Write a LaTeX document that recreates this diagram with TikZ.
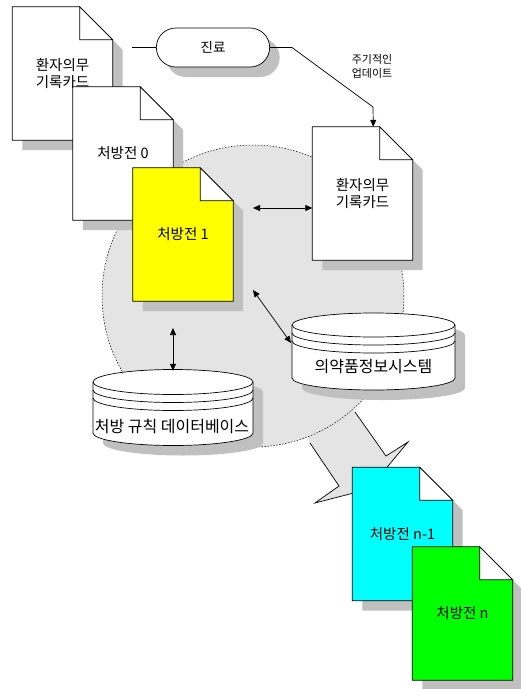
\documentclass[tikz,border=0pt]{standalone}
\usepackage{fontspec}
\newfontfamily\kr{Noto Sans CJK KR}
\usetikzlibrary{arrows.meta,shapes.misc,shadows,calc}
\definecolor{shadowgray}{RGB}{192,192,192}
\definecolor{zonefill}{RGB}{228,228,228}
\definecolor{docyellow}{RGB}{255,255,0}
\definecolor{doccyan}{RGB}{0,255,255}
\definecolor{docgreen}{RGB}{0,255,0}
\tikzset{
  docframe/.style={rectangle, draw=none, minimum width=100pt, minimum height=133pt, inner sep=0pt},
  docline/.style={line width=0.7pt, line join=miter},
  doctext/.style={font=\kr\fontsize{14.5}{17}\selectfont, align=center, inner sep=0pt},
  dbtext/.style={font=\kr\fontsize{16}{18}\selectfont, inner sep=0pt},
  dbframe/.style={rectangle, draw=none, inner sep=0pt},
  conn/.style={line width=0.7pt},
  biarrow/.style={conn, {Triangle[length=7pt,width=6pt]}-{Triangle[length=7pt,width=6pt]}},
  onearrow/.style={conn, -{Triangle[length=7pt,width=6pt]}},
}
\newcommand{\docnode}[4]{%
  \path (#2) node[docframe] (#1) {};
  \fill[shadowgray] ($(#1.north west)+(10pt,-10pt)$) -- ($(#1.north east)+(-23pt,-10pt)$) -- ($(#1.north east)+(10pt,-43pt)$) -- ($(#1.south east)+(10pt,-10pt)$) -- ($(#1.south west)+(10pt,-10pt)$) -- cycle;
  \draw[docline, fill=#3] (#1.north west) -- ($(#1.north east)+(-33pt,0pt)$) -- ($(#1.north east)+(0pt,-33pt)$) -- (#1.south east) -- (#1.south west) -- cycle;
  \draw[docline, fill=white] ($(#1.north east)+(-33pt,0pt)$) -- ($(#1.north east)+(-33pt,-33pt)$) -- ($(#1.north east)+(0pt,-33pt)$) -- cycle;
  \node[doctext] (#1-t) at (#1) {#4};
}
\begin{document}
\begin{tikzpicture}[x=1pt,y=-1pt]
\useasboundingbox (0,0) rectangle (521,689);

% zone and big arrow
\fill[zonefill] (253,296) -- (355,412) -- (386,456) -- (408,442) -- (369,489) -- (315,503) -- (339,486) -- (310,443) -- cycle;
\node[circle, minimum size=302pt, inner sep=0pt, fill=zonefill, draw, line width=0.5pt, dash pattern=on 1.5pt off 1.5pt] (zone) at (253,296) {};
\draw[conn] (355,412) -- (386,456) -- (408,442) -- (369,489) -- (315,503) -- (339,486) -- (310,443);

% documents
\docnode{card1}{62.5,73.5}{white}{환자의무\\기록카드}
\docnode{rx0}{123,153.5}{white}{처방전 0}
\docnode{rx1}{183,234.5}{docyellow}{처방전 1}
\docnode{card2}{362.5,193.5}{white}{환자의무\\기록카드}
\docnode{rxn1}{402.5,534}{doccyan}{처방전 n-1}
\docnode{rxn}{462.5,613.5}{docgreen}{처방전 n}

% database 1
\node[dbframe, minimum width=163pt, minimum height=77pt] (db1) at (373.5,351.5) {};
\fill[shadowgray] (302,335) -- (302,388) arc[start angle=180,end angle=360,x radius=81.5pt,y radius=12pt] -- (465,335) arc[start angle=0,end angle=180,x radius=81.5pt,y radius=12pt] -- cycle;
\draw[conn, fill=white] (292,325) -- (292,378) arc[start angle=180,end angle=360,x radius=81.5pt,y radius=12pt] -- (455,325) arc[start angle=0,end angle=180,x radius=81.5pt,y radius=12pt] -- cycle;
\draw[conn] (292,325) arc[start angle=180,end angle=360,x radius=81.5pt,y radius=12pt];
\draw[conn] (292,333) arc[start angle=180,end angle=360,x radius=81.5pt,y radius=12pt];
\draw[conn] (292,341) arc[start angle=180,end angle=360,x radius=81.5pt,y radius=12pt];
\node[dbtext] (db1-t) at (373.5,367) {의약품정보시스템};

% database 2
\node[dbframe, minimum width=160pt, minimum height=75pt] (db2) at (173,407.5) {};
\fill[shadowgray] (103,392) -- (103,443) arc[start angle=180,end angle=360,x radius=80pt,y radius=12.5pt] -- (263,392) arc[start angle=0,end angle=180,x radius=80pt,y radius=12.5pt] -- cycle;
\draw[conn, fill=white] (93,382) -- (93,433) arc[start angle=180,end angle=360,x radius=80pt,y radius=12.5pt] -- (253,382) arc[start angle=0,end angle=180,x radius=80pt,y radius=12.5pt] -- cycle;
\draw[conn] (93,382) arc[start angle=180,end angle=360,x radius=80pt,y radius=12.5pt];
\draw[conn] (93,390) arc[start angle=180,end angle=360,x radius=80pt,y radius=12.5pt];
\draw[conn] (93,398) arc[start angle=180,end angle=360,x radius=80pt,y radius=12.5pt];
\node[dbtext] (db2-t) at (172,426) {처방 규칙 데이터베이스};

% terminal
\node[rounded rectangle, draw, conn, fill=white, minimum width=120pt, minimum height=39pt,
  font=\kr\fontsize{13.5}{16}\selectfont,
  drop shadow={shadow xshift=10pt, shadow yshift=-10pt, fill=shadowgray, opacity=1, draw=none}] (jin) at (213,47.5) {진료};

% connectors
\coordinate (stub) at (132,47.5);
\draw[conn] (stub) -- (jin.west);
\coordinate (u1) at (292,47.5);
\coordinate (u2) at (373,107);
\coordinate (u3) at ($(card2.north west)+(61pt,0pt)$);
\draw[onearrow] (jin.east) -- (u1) -- (u2) -- (u3);
\node[font=\kr\fontsize{11}{14}\selectfont, align=center, inner sep=0pt] (upd) at (372,66) {주기적인\\업데이트};

\coordinate (h1) at (253,208);
\draw[biarrow] (h1) -- (h1 -| card2.west);
\coordinate (d1) at (253,290);
\coordinate (d2) at (291,343);
\draw[biarrow] (d1) -- (d2);
\coordinate (v1) at (173,328);
\draw[biarrow] (v1) -- ($(db2.north)+(0pt,-1pt)$);
\end{tikzpicture}
\end{document}
